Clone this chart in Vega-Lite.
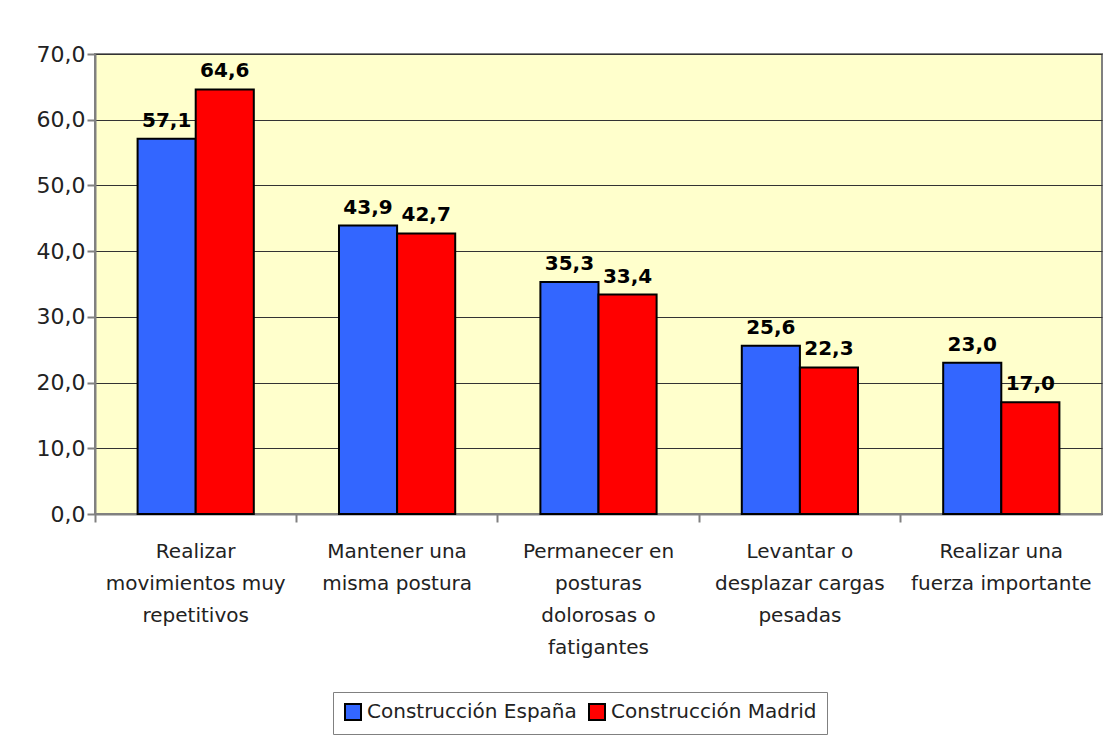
{
  "$schema": "https://vega.github.io/schema/vega-lite/v6.json",
  "autosize": "none",
  "width": 1007,
  "height": 460,
  "padding": {"left": 95, "top": 54, "right": 16, "bottom": 224},
  "background": "white",
  "config": {
    "locale": {"number": {"decimal": ",", "thousands": ".", "grouping": [3], "currency": ["", " €"]}},
    "font": "DejaVu Sans",
    "view": {"fill": "#FFFFCC", "stroke": "#808080", "strokeWidth": 2}
  },
  "data": {
    "values": [
      {"categoria": "Realizar movimientos muy repetitivos", "serie": "Construcción España", "valor": 57.1},
      {"categoria": "Realizar movimientos muy repetitivos", "serie": "Construcción Madrid", "valor": 64.6},
      {"categoria": "Mantener una misma postura", "serie": "Construcción España", "valor": 43.9},
      {"categoria": "Mantener una misma postura", "serie": "Construcción Madrid", "valor": 42.7},
      {"categoria": "Permanecer en posturas dolorosas o fatigantes", "serie": "Construcción España", "valor": 35.3},
      {"categoria": "Permanecer en posturas dolorosas o fatigantes", "serie": "Construcción Madrid", "valor": 33.4},
      {"categoria": "Levantar o desplazar cargas pesadas", "serie": "Construcción España", "valor": 25.6},
      {"categoria": "Levantar o desplazar cargas pesadas", "serie": "Construcción Madrid", "valor": 22.3},
      {"categoria": "Realizar una fuerza importante", "serie": "Construcción España", "valor": 23.0},
      {"categoria": "Realizar una fuerza importante", "serie": "Construcción Madrid", "valor": 17.0}
    ]
  },
  "encoding": {
    "x": {
      "field": "categoria",
      "type": "nominal",
      "sort": null,
      "scale": {"paddingInner": 0, "paddingOuter": 0},
      "axis": {
        "title": null,
        "labelAngle": 0,
        "bandPosition": 0,
        "labelExpr": "{'Realizar movimientos muy repetitivos': ['Realizar', 'movimientos muy', 'repetitivos'], 'Mantener una misma postura': ['Mantener una', 'misma postura'], 'Permanecer en posturas dolorosas o fatigantes': ['Permanecer en', 'posturas', 'dolorosas o', 'fatigantes'], 'Levantar o desplazar cargas pesadas': ['Levantar o', 'desplazar cargas', 'pesadas'], 'Realizar una fuerza importante': ['Realizar una', 'fuerza importante']}[datum.value]",
        "labelFontSize": 20,
        "labelColor": "#222222",
        "labelLineHeight": 32,
        "labelPadding": 19,
        "labelBaseline": "top",
        "labelAlign": "center",
        "labelBound": false,
        "labelOverlap": false,
        "labelLimit": 300,
        "domainColor": "#808080",
        "domainWidth": 2,
        "tickColor": "#808080",
        "tickWidth": 2,
        "tickSize": 8
      }
    },
    "xOffset": {
      "field": "serie",
      "type": "nominal",
      "scale": {"paddingInner": 0, "paddingOuter": 0.733}
    },
    "y": {
      "field": "valor",
      "type": "quantitative",
      "scale": {"domain": [0, 70], "nice": false},
      "axis": {
        "title": null,
        "values": [0, 10, 20, 30, 40, 50, 60, 70],
        "format": ".1f",
        "labelFontSize": 22,
        "labelColor": "#222222",
        "labelPadding": 2,
        "domainColor": "#808080",
        "domainWidth": 2,
        "tickColor": "#808080",
        "tickWidth": 2,
        "tickSize": 8,
        "gridColor": "#333333",
        "gridWidth": 1.2,
        "gridOpacity": 1
      }
    }
  },
  "layer": [
    {
      "mark": {"type": "bar", "stroke": "black", "strokeWidth": 2},
      "encoding": {
        "color": {
          "field": "serie",
          "type": "nominal",
          "scale": {"domain": ["Construcción España", "Construcción Madrid"], "range": ["#3366FF", "#FF0000"]},
          "legend": {
            "title": null,
            "orient": "none",
            "direction": "horizontal",
            "legendX": 238,
            "legendY": 638,
            "symbolType": "square",
            "symbolSize": 256,
            "symbolStrokeColor": "black",
            "symbolStrokeWidth": 2,
            "symbolOpacity": 1,
            "labelFontSize": 20,
            "labelColor": "#222222",
            "labelOffset": 4,
            "labelLimit": 400,
            "columnPadding": 8,
            "strokeColor": "#808080",
            "fillColor": "white",
            "padding": 10
          }
        }
      }
    },
    {
      "mark": {"type": "text", "dy": -18, "fontSize": 20, "fontWeight": "bold", "color": "black", "baseline": "middle"},
      "encoding": {
        "text": {"field": "valor", "type": "quantitative", "format": ".1f"}
      }
    }
  ]
}
